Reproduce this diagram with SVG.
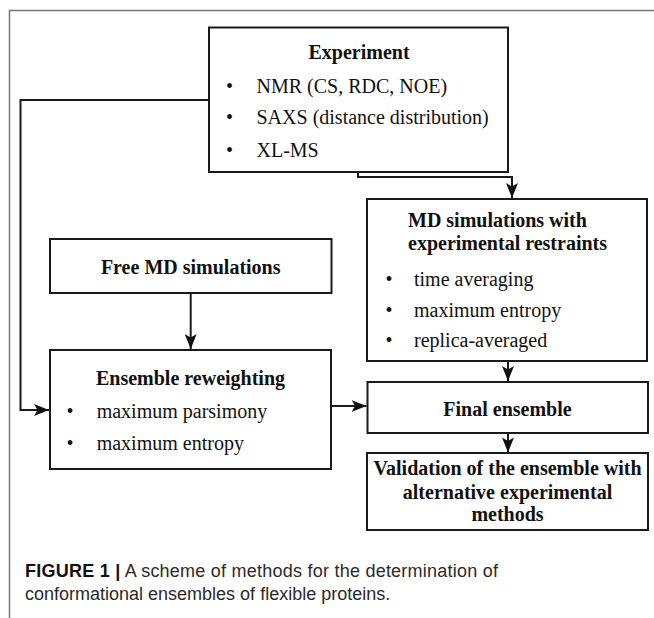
<svg xmlns="http://www.w3.org/2000/svg" width="654" height="618" viewBox="0 0 654 618">
<style>
.box{fill:#fff;stroke:#1a1a1a;stroke-width:2}
.t{font-family:"Liberation Serif","Times New Roman",serif;font-size:20px;fill:#111}
.b{font-weight:bold}
.m{text-anchor:middle}
.con{fill:none;stroke:#1a1a1a;stroke-width:2}
.cap{font-family:"Liberation Sans",Arial,sans-serif;font-size:18px;fill:#2a2a2a}
</style>
<defs>
<marker id="ah" viewBox="0 0 15 12" refX="15" refY="6" markerWidth="15" markerHeight="12" markerUnits="userSpaceOnUse" orient="auto">
<path d="M0,0 L15,6 L0,12 L3.5,6 z" fill="#111"/>
</marker>
</defs>
<rect width="654" height="618" fill="#fff"/>
<path d="M9.5,618 V10.5 H654" fill="none" stroke="#777" stroke-width="1.5"/>

<g id="connectors">
<path class="con" d="M209,100 H20.5 V410 H49" marker-end="url(#ah)"/>
<path class="con" d="M358,172 V177 H512 V198" marker-end="url(#ah)"/>
<path class="con" d="M190.7,293 V349" marker-end="url(#ah)"/>
<path class="con" d="M331,406 H366.5" marker-end="url(#ah)"/>
<path class="con" d="M508,361 V381" marker-end="url(#ah)"/>
<path class="con" d="M508,433 V452.5" marker-end="url(#ah)"/>
</g>

<g id="experiment">
<rect class="box" x="209" y="27.5" width="299" height="144.5"/>
<text class="t b m" x="359" y="59">Experiment</text>
<text class="t" x="226" y="92.5">•</text>
<text class="t" x="256.5" y="92.5">NMR (CS, RDC, NOE)</text>
<text class="t" x="226" y="124">•</text>
<text class="t" x="256.5" y="124">SAXS (distance distribution)</text>
<text class="t" x="226" y="156.7">•</text>
<text class="t" x="256.5" y="156.7">XL-MS</text>
</g>

<g id="md-restraints">
<rect class="box" x="367" y="199" width="280" height="162"/>
<text class="t b" x="408" y="226.7">MD simulations with</text>
<text class="t b" x="408" y="250">experimental restraints</text>
<text class="t" x="385.5" y="286">•</text>
<text class="t" x="414" y="286">time averaging</text>
<text class="t" x="385.5" y="316.7">•</text>
<text class="t" x="414" y="316.7">maximum entropy</text>
<text class="t" x="385.5" y="347">•</text>
<text class="t" x="414" y="347">replica-averaged</text>
</g>

<g id="free-md">
<rect class="box" x="50" y="239" width="281.5" height="54"/>
<text class="t b m" x="190.7" y="274">Free MD simulations</text>
</g>

<g id="reweighting">
<rect class="box" x="50" y="350" width="281" height="119"/>
<text class="t b m" x="190.5" y="385">Ensemble reweighting</text>
<text class="t" x="66.5" y="418">•</text>
<text class="t" x="96.7" y="418">maximum parsimony</text>
<text class="t" x="66.5" y="450">•</text>
<text class="t" x="96.7" y="450">maximum entropy</text>
</g>

<g id="final">
<rect class="box" x="367.5" y="382" width="280.5" height="51"/>
<text class="t b m" x="507.5" y="416">Final ensemble</text>
</g>

<g id="validation">
<rect class="box" x="367" y="453" width="281" height="77"/>
<text class="t b m" x="507.5" y="475">Validation of the ensemble with</text>
<text class="t b m" x="507.5" y="499">alternative experimental</text>
<text class="t b m" x="507.5" y="521">methods</text>
</g>

<g id="caption">
<text class="cap" x="25" y="577" textLength="473" lengthAdjust="spacing"><tspan font-weight="bold" fill="#111">FIGURE 1 |</tspan> A scheme of methods for the determination of</text>
<text class="cap" x="25" y="600">conformational ensembles of flexible proteins.</text>
</g>
</svg>
